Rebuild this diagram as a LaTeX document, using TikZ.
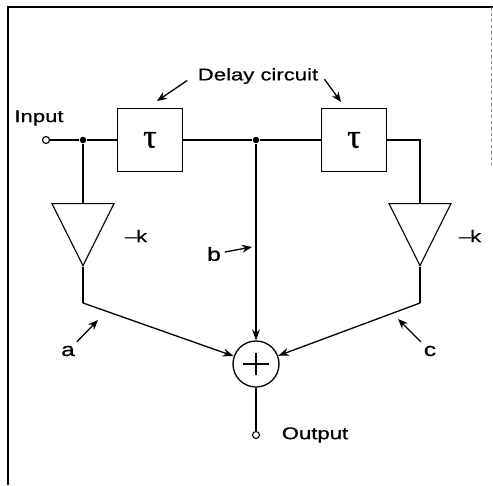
\documentclass[tikz,border=0pt]{standalone}
\usepackage{fontspec}
\setmainfont{Liberation Sans}[FakeStretch=1.3,FakeBold=0.6]
\newfontfamily\taufont{Liberation Serif}[FakeBold=0.8]
\usetikzlibrary{shapes.geometric,arrows.meta}

\begin{document}
\begin{tikzpicture}[x=1pt,y=-1pt,line width=1.3pt,
  font=\fontsize{17}{20}\selectfont,
  delaybox/.style={draw,line width=1pt,minimum width=65pt,minimum height=63pt,inner sep=0pt,font=\taufont\fontsize{34}{34}\selectfont},
  amp/.style={draw,line width=1.1pt,isosceles triangle,shape border rotate=-90,isosceles triangle stretches,minimum width=62pt,minimum height=62pt,inner sep=0pt},
  junction/.style={circle,fill,inner sep=0pt,minimum size=6.5pt},
  terminal/.style={circle,draw,fill=white,inner sep=0pt,minimum size=7pt,line width=1.1pt},
  tag/.style={font=\fontsize{19}{22}\selectfont},
  pointer/.style={-{Stealth[length=10pt,width=8pt]}},
  signal/.style={-{Stealth[length=11pt,width=8pt]}}]
\useasboundingbox (0,0) rectangle (493,485);
% frame
\draw[line width=2pt] (8,485) -- (8,7) -- (493,7);
\draw[gray,line width=0.6pt,dashed] (491,7) -- (491,165);

% delay line
\node[terminal] (in) at (46,140) {};
\node[junction] (j1) at (83,140) {};
\node[delaybox] (d1) at (150,140) {τ};
\node[junction] (j2) at (256,140) {};
\node[delaybox] (d2) at (354,140) {τ};
\coordinate (r1) at (420,140);

% taps
\node[amp,anchor=apex] (ampL) at (83,267) {};
\node[amp,anchor=apex] (ampR) at (420,267) {};
\coordinate (bL) at (83,303);
\coordinate (bR) at (420,303);
\node[circle,draw,minimum size=46pt,inner sep=0pt] (sum) at (256,364) {};
\draw ([xshift=-13pt]sum.center) -- ([xshift=13pt]sum.center);
\draw ([yshift=-11pt]sum.center) -- ([yshift=11pt]sum.center);
\node[terminal] (out) at (256,435) {};

\draw (in) -- (j1) -- (d1);
\draw (d1) -- (j2) -- (d2);
\draw (d2) -- (r1) -- (ampR.lower side);
\draw (j1) -- (ampL.lower side);
\draw (ampL.apex) -- (bL);
\draw[signal] (bL) -- (sum);
\draw (ampR.apex) -- (bR);
\draw[signal] (bR) -- (sum);
\draw[signal] (j2) -- (sum);
\draw (sum) -- (out);

% labels
\node (lin) at (39,118) {Input};
\node (lout) at (315,435) {Output};
\node (kL) at (136,236) {--\kern-1pt k};
\node (kR) at (470,236) {--\kern-1pt k};
\node (delay) at (258,76) {Delay circuit};
\coordinate (d1p) at (157,101);
\coordinate (d2p) at (341,102);
\draw[pointer,shorten <=8pt] (delay.west) -- (d1p);
\draw[pointer,shorten <=4pt] (delay.east) -- (d2p);
\node[tag] (la) at (68,351) {a};
\node[tag] (lb) at (214,254) {b};
\node[tag] (lc) at (430,351) {c};
\coordinate (ap) at (98,320);
\coordinate (bp) at (252,247);
\coordinate (cp) at (398,319);
\draw[pointer] (la) -- (ap);
\draw[pointer] (lb) -- (bp);
\draw[pointer] (lc) -- (cp);
\end{tikzpicture}
\end{document}
